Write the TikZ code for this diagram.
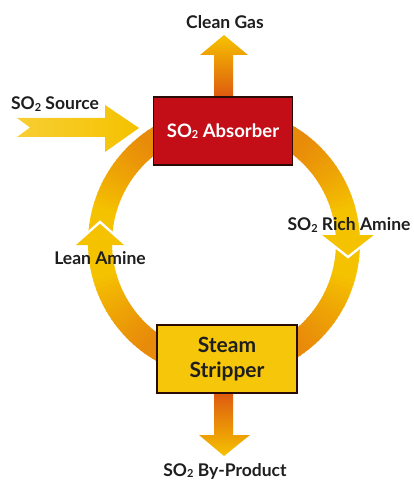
\documentclass[tikz,border=0pt]{standalone}
\usepackage{fontspec}
\setmainfont{Lato}
\definecolor{ringY}{HTML}{F5C200}
\definecolor{ringO}{HTML}{E88A0A}
\definecolor{absred}{HTML}{C30E18}
\definecolor{boxline}{HTML}{2A0A05}
\definecolor{stripY}{HTML}{F5C60A}
\definecolor{txt}{HTML}{1E1E1E}
\definecolor{deepO}{HTML}{DE5A10}
\newcommand{\subtwo}{\raisebox{-0.15ex}{\fontsize{11}{11}\selectfont 2}}
\tikzset{
  lbl/.style={font=\fontsize{17.5}{20}\selectfont\bfseries, text=txt, inner sep=0pt},
  procbox/.style={draw=boxline, line width=1.6pt, minimum width=139pt, minimum height=68pt, inner sep=0pt, align=center},
  headedge/.style={draw=white, line width=2.4pt, line join=miter}
}
\begin{document}
\begin{tikzpicture}[x=1pt,y=-1pt]
\useasboundingbox (0,0) rectangle (414,481);
% ring
\foreach \a in {0,2,...,358}{
  \pgfmathtruncatemacro\t{max(0,min(100,(abs(sin(\a+1))-0.25)/0.55*100))}
  \fill[ringO!\t!ringY] ({224+112*cos(\a)},{243-112*sin(\a)}) -- ({224+136*cos(\a)},{243-136*sin(\a)}) -- ({224+136*cos(\a+2.4)},{243-136*sin(\a+2.4)}) -- ({224+112*cos(\a+2.4)},{243-112*sin(\a+2.4)}) -- cycle;
}
% boxes (named, drawn later on top)
\path (223,131) node[procbox] (abs) {};
\path (227,359) node[procbox, minimum width=140pt] (strip) {};
% source arrow
\shade[left color=ringY!80!white, right color=ringY] (17,118) -- (105,118) -- (105,105) -- (139,128) -- (105,152) -- (105,137) -- (17,137) -- (30,127.5) -- cycle;
% clean gas arrow
\shade[top color=ringY, bottom color=deepO] (214,97) -- (214,55) -- (200,55) -- (224,35) -- (248,55) -- (233,55) -- (233,97) -- cycle;
% by-product arrow
\shade[top color=deepO, bottom color=ringY] (214,393) -- (214,435) -- (199,435) -- (224,456) -- (250,435) -- (233,435) -- (233,393) -- cycle;
% ring arrowheads
\fill[ringY] (74,245) -- (100,222) -- (126,245) -- cycle;
\draw[headedge] (74,245) -- (100,222) -- (126,245);
\fill[ringY] (320,235) -- (348,257) -- (376,235) -- cycle;
\draw[headedge] (320,235) -- (348,257) -- (376,235);
% boxes on top
\node[procbox, fill=absred, text=white, font=\fontsize{18.5}{20}\selectfont\bfseries] at (223,131) {SO\subtwo{} Absorber};
\node[procbox, minimum width=140pt, fill=stripY, text=txt, font=\fontsize{21}{25}\selectfont\bfseries] at (227,359) {Steam\\Stripper};
% labels
\node[lbl] (clean) at (225,22) {Clean Gas};
\node[lbl] (source) at (55,104) {SO\subtwo{} Source};
\node[lbl] (rich) at (349,225) {SO\subtwo{} Rich Amine};
\node[lbl] (lean) at (100,258) {Lean Amine};
\node[lbl] (byprod) at (225,471) {SO\subtwo{} By-Product};
\end{tikzpicture}
\end{document}
